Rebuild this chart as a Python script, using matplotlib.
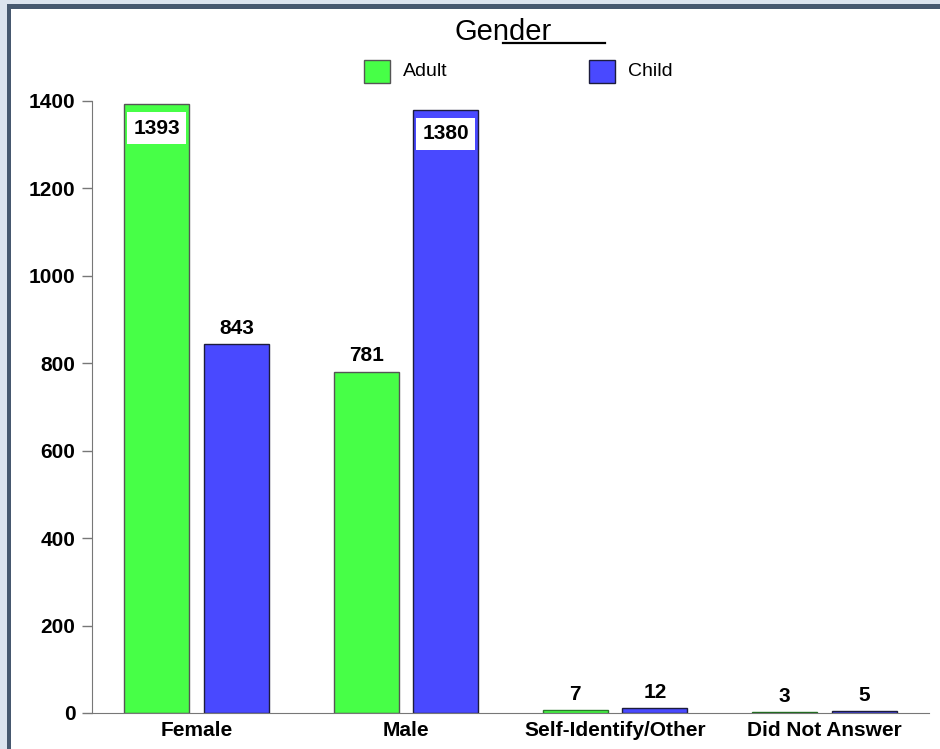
import numpy as np
import matplotlib.pyplot as plt
from matplotlib.patches import Rectangle
from matplotlib.lines import Line2D

plt.rcParams['font.family'] = ['Liberation Sans', 'DejaVu Sans']

categories = ["Female", "Male", "Self-Identify/Other", "Did Not Answer"]
adult = [1393, 781, 7, 3]
child = [843, 1380, 12, 5]
series_names = ["Adult", "Child"]
y_ticks = [0, 200, 400, 600, 800, 1000, 1200, 1400]

green = "#47ff47"
blue = "#4949ff"

W, H = 940, 749
fig = plt.figure(figsize=(W / 100, H / 100), dpi=100)
fig.patch.set_facecolor("#dbe3ee")

# white panel with a dark frame on the top and left
fig.patches.append(Rectangle((7 / W, 0), 1, 1 - 4 / H, transform=fig.transFigure,
                             facecolor="#46586f", edgecolor="none", zorder=-3))
fig.patches.append(Rectangle((11 / W, 0), 1, 1 - 8.5 / H, transform=fig.transFigure,
                             facecolor="white", edgecolor="none", zorder=-2))

ax = fig.add_axes([92 / W, 1 - 713 / H, (929 - 92) / W, (713 - 101) / H])
ax.set_facecolor("none")
ax.set_zorder(1)

x = np.arange(len(categories))
w = 0.31
off = 0.19
b1 = ax.bar(x - off, adult, w, color=green, edgecolor=["#555555", "#555555", "#2a7a2a", "#1e6b1e"],
            linewidth=1, zorder=2)
b2 = ax.bar(x + off, child, w, color=blue, edgecolor="#1c1c3c", linewidth=1, zorder=2)

ax.set_xlim(-0.5, 3.5)
ax.set_ylim(0, 1400)
ax.set_yticks(y_ticks)
ax.set_yticklabels([str(t) for t in y_ticks], fontsize=15, fontweight="bold")
ax.set_xticks(x)
ax.set_xticklabels(categories, fontsize=15, fontweight="bold")
ax.tick_params(axis="y", direction="out", length=7, width=1, color="#777777", pad=5)
ax.tick_params(axis="x", length=0, pad=6)
for s in ["top", "right"]:
    ax.spines[s].set_visible(False)
ax.spines["left"].set_color("#777777")
ax.spines["bottom"].set_color("#777777")

# value labels: big bars get a white box inside the top, others sit above
for bars, vals in [(b1, adult), (b2, child)]:
    for bar, v in zip(bars, vals):
        cx = bar.get_x() + bar.get_width() / 2
        if v > 1000:
            ax.text(cx, v - 55, str(v), ha="center", va="center", fontsize=15,
                    fontweight="bold", zorder=4,
                    bbox=dict(boxstyle="square,pad=0.3", facecolor="white", edgecolor="none"))
        else:
            ax.text(cx, v + 14, str(v), ha="center", va="bottom", fontsize=15,
                    fontweight="bold", zorder=4)

# title with its odd partial underline
fig.text(455 / W, 1 - 40 / H, "Gender", fontsize=21, ha="left", va="baseline")
fig.lines.append(Line2D([503 / W, 605 / W], [1 - 42.5 / H, 1 - 42.5 / H],
                        transform=fig.transFigure, color="black", linewidth=1.6))

# legend drawn by hand
for name, col, px, ec in [(series_names[0], green, 364, "#555555"),
                          (series_names[1], blue, 589, "#1c1c3c")]:
    fig.patches.append(Rectangle((px / W, 1 - 83 / H), 26 / W, 23 / H,
                                 transform=fig.transFigure, facecolor=col,
                                 edgecolor=ec, linewidth=1))
    fig.text((px + 39) / W, 1 - 71 / H, name, fontsize=14, ha="left", va="center")

fig.savefig("out.png", dpi=100)
